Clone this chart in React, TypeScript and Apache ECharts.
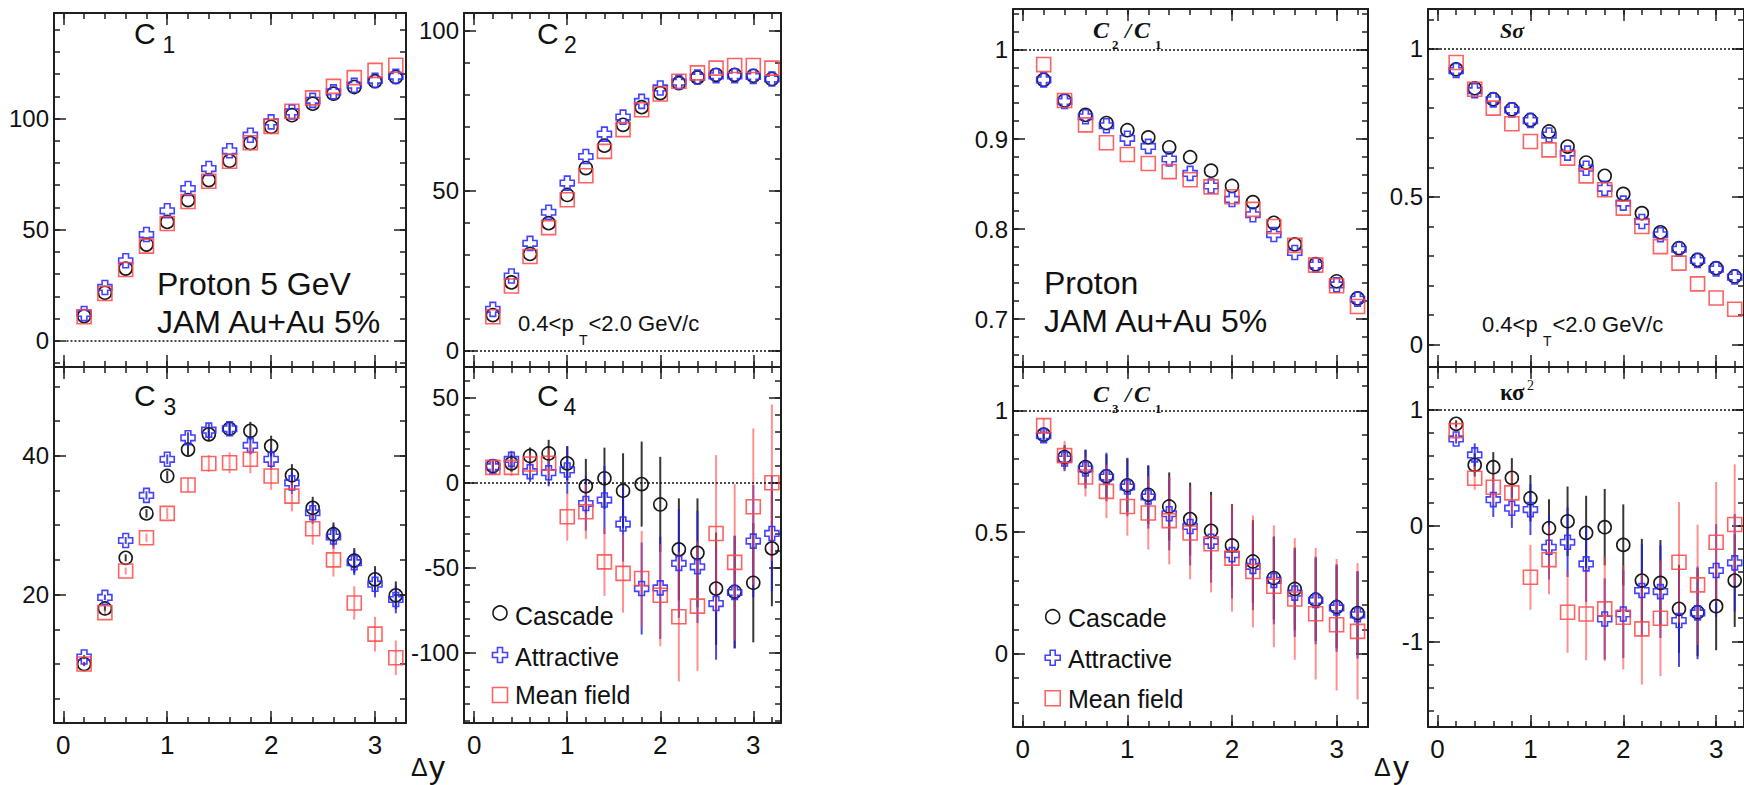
import React, { useEffect, useRef } from "react";
import * as echarts from "echarts";

// ---------------- data ----------------
const dy = [0.2, 0.4, 0.6, 0.8, 1.0, 1.2, 1.4, 1.6, 1.8, 2.0, 2.2, 2.4, 2.6, 2.8, 3.0, 3.2];
const modelNames = ["Cascade", "Attractive", "Mean field"];

const c1Cascade = [11.1, 21.6, 32.5, 43.3, 53.5, 63.3, 72.3, 81.0, 89.0, 96.3, 101.5, 106.7, 111.2, 114.2, 116.8, 118.7];
const c1Attractive = [12.3, 24.0, 36.0, 47.8, 58.5, 68.5, 77.5, 85.5, 92.5, 98.5, 103.0, 108.2, 112.0, 115.0, 117.2, 119.0];
const c1MeanField = [10.8, 21.3, 32.1, 42.6, 52.8, 62.7, 71.8, 80.8, 89.1, 96.5, 103.3, 109.3, 114.5, 118.4, 121.7, 124.0];

const c2Cascade = [11.1, 21.3, 30.2, 39.8, 48.6, 57.0, 64.0, 70.5, 76.0, 80.4, 83.5, 85.3, 86.1, 86.1, 85.8, 84.8];
const c2Attractive = [12.9, 23.3, 33.5, 43.2, 52.3, 60.6, 67.6, 72.9, 77.8, 82.0, 83.8, 85.4, 85.8, 85.8, 85.6, 84.8];
const c2MeanField = [10.6, 20.2, 29.4, 38.4, 47.1, 54.6, 62.2, 69.0, 75.2, 80.1, 84.1, 86.7, 88.2, 89.0, 89.0, 88.2];

const c3Cascade = [10.0, 18.0, 25.3, 31.7, 37.1, 40.9, 43.1, 43.9, 43.6, 41.4, 37.2, 32.5, 28.7, 24.9, 22.2, 19.9];
const c3Attractive = [11.0, 19.6, 27.8, 34.3, 39.5, 42.6, 43.7, 43.9, 41.5, 39.5, 36.1, 31.8, 28.3, 24.6, 21.5, 19.3];
const c3MeanField = [10.0, 17.4, 23.4, 28.2, 31.7, 35.8, 38.9, 39.0, 39.5, 37.1, 34.2, 29.5, 25.0, 18.8, 14.3, 10.9];
const c3CascadeErr = [0.3, 0.4, 0.5, 0.6, 0.7, 0.8, 0.9, 1.0, 1.3, 1.5, 1.6, 1.6, 1.7, 1.8, 1.9, 2.0];
const c3AttractiveErr = [0.3, 0.4, 0.5, 0.6, 0.7, 0.8, 0.9, 1.0, 1.3, 1.5, 1.6, 1.6, 1.7, 1.8, 1.9, 2.0];
const c3MeanFieldErr = [0.3, 0.4, 0.5, 0.6, 0.8, 1.0, 1.2, 1.5, 2.0, 2.0, 2.2, 2.3, 2.4, 2.4, 2.5, 2.5];

const c4Cascade = [9.6, 11.2, 15.5, 17.0, 11.2, -2.2, 2.4, -4.9, -1.0, -13.0, -39.4, -41.4, -62.4, -64.3, -59.0, -38.8];
const c4Attractive = [9.2, 13.5, 6.3, 5.7, 7.3, -12.4, -10.4, -24.5, -62.4, -62.0, -47.6, -49.6, -71.2, -64.7, -34.5, -30.0];
const c4MeanField = [8.8, 8.8, 10.8, 11.2, -20.2, -17.3, -46.7, -53.5, -56.5, -66.3, -79.0, -72.7, -30.0, -47.0, -14.3, -0.2];
const c4CascadeErr = [3, 5, 5, 8, 10, 16, 18, 22, 25, 28, 30, 32, 33, 33, 35, 34];
const c4AttractiveErr = [3, 5, 6, 8, 14, 16, 20, 22, 27, 30, 32, 33, 33, 33, 33, 34];
const c4MeanFieldErr = [4, 5, 6, 8, 14, 16, 20, 23, 28, 30, 38, 38, 46, 46, 46, 46];

const c21Cascade = [0.966, 0.943, 0.927, 0.918, 0.910, 0.902, 0.891, 0.880, 0.865, 0.848, 0.830, 0.807, 0.783, 0.761, 0.742, 0.723];
const c21Attractive = [0.966, 0.942, 0.925, 0.915, 0.901, 0.892, 0.878, 0.862, 0.848, 0.833, 0.816, 0.794, 0.774, 0.760, 0.738, 0.722];
const c21MeanField = [0.983, 0.943, 0.916, 0.896, 0.883, 0.873, 0.864, 0.855, 0.847, 0.836, 0.822, 0.803, 0.782, 0.760, 0.737, 0.714];

const sSigmaCascade = [0.931, 0.867, 0.830, 0.796, 0.760, 0.721, 0.670, 0.616, 0.571, 0.510, 0.445, 0.380, 0.327, 0.287, 0.259, 0.231];
const sSigmaAttractive = [0.927, 0.859, 0.828, 0.794, 0.758, 0.709, 0.648, 0.597, 0.529, 0.479, 0.417, 0.372, 0.323, 0.285, 0.256, 0.229];
const sSigmaMeanField = [0.954, 0.864, 0.800, 0.747, 0.687, 0.659, 0.631, 0.571, 0.524, 0.462, 0.400, 0.332, 0.276, 0.206, 0.158, 0.120];

const c31Cascade = [0.900, 0.808, 0.767, 0.729, 0.692, 0.653, 0.605, 0.553, 0.505, 0.445, 0.379, 0.311, 0.266, 0.222, 0.192, 0.167];
const c31Attractive = [0.896, 0.800, 0.759, 0.726, 0.685, 0.644, 0.575, 0.523, 0.462, 0.407, 0.359, 0.301, 0.249, 0.219, 0.188, 0.160];
const c31MeanField = [0.937, 0.814, 0.726, 0.667, 0.605, 0.578, 0.547, 0.496, 0.452, 0.393, 0.338, 0.277, 0.225, 0.164, 0.119, 0.092];
const c31CascadeErr = [0.02, 0.05, 0.07, 0.09, 0.11, 0.12, 0.14, 0.15, 0.16, 0.17, 0.17, 0.17, 0.17, 0.17, 0.17, 0.17];
const c31AttractiveErr = [0.02, 0.05, 0.08, 0.10, 0.12, 0.13, 0.15, 0.16, 0.17, 0.18, 0.18, 0.18, 0.18, 0.18, 0.18, 0.18];
const c31MeanFieldErr = [0.03, 0.06, 0.08, 0.11, 0.12, 0.15, 0.18, 0.19, 0.20, 0.22, 0.23, 0.25, 0.25, 0.27, 0.27, 0.28];

const kSigmaCascade = [0.878, 0.524, 0.504, 0.412, 0.236, -0.023, 0.037, -0.063, -0.014, -0.167, -0.475, -0.495, -0.719, -0.748, -0.696, -0.475];
const kSigmaAttractive = [0.748, 0.610, 0.224, 0.150, 0.138, -0.187, -0.144, -0.331, -0.806, -0.763, -0.561, -0.570, -0.820, -0.754, -0.388, -0.322];
const kSigmaMeanField = [0.820, 0.409, 0.331, 0.282, -0.446, -0.294, -0.748, -0.763, -0.719, -0.791, -0.892, -0.800, -0.317, -0.512, -0.144, 0.009];
const kSigmaCascadeErr = [0.03, 0.10, 0.13, 0.17, 0.20, 0.25, 0.30, 0.32, 0.33, 0.35, 0.36, 0.37, 0.38, 0.38, 0.38, 0.40];
const kSigmaAttractiveErr = [0.04, 0.10, 0.15, 0.17, 0.22, 0.28, 0.30, 0.33, 0.35, 0.38, 0.40, 0.40, 0.40, 0.40, 0.40, 0.42];
const kSigmaMeanFieldErr = [0.04, 0.10, 0.13, 0.20, 0.28, 0.30, 0.35, 0.40, 0.45, 0.45, 0.48, 0.50, 0.52, 0.52, 0.52, 0.52];

// ---------------- ticks ----------------
const xMajorTicks = [0, 1, 2, 3];
const xMinorTicks = [0, 0.2, 0.4, 0.6, 0.8, 1, 1.2, 1.4, 1.6, 1.8, 2, 2.2, 2.4, 2.6, 2.8, 3, 3.2];
const c1YMajor = [0, 50, 100];
const c1YMinor = [-10, 0, 10, 20, 30, 40, 50, 60, 70, 80, 90, 100, 110, 120, 130, 140];
const c2YMajor = [0, 50, 100];
const c2YMinor = [0, 10, 20, 30, 40, 50, 60, 70, 80, 90, 100];
const c3YMajor = [20, 40];
const c3YMinor = [5, 10, 15, 20, 25, 30, 35, 40, 45, 50];
const c4YMajor = [-100, -50, 0, 50];
const c4YMinor = [-140, -130, -120, -110, -100, -90, -80, -70, -60, -50, -40, -30, -20, -10, 0, 10, 20, 30, 40, 50, 60];
const c21YMajor = [0.7, 0.8, 0.9, 1];
const c21YMinor = [0.66, 0.68, 0.7, 0.72, 0.74, 0.76, 0.78, 0.8, 0.82, 0.84, 0.86, 0.88, 0.9, 0.92, 0.94, 0.96, 0.98, 1, 1.02, 1.04];
const sSigmaYMajor = [0, 0.5, 1];
const sSigmaYMinor = [0, 0.1, 0.2, 0.3, 0.4, 0.5, 0.6, 0.7, 0.8, 0.9, 1, 1.1];
const c31YMajor = [0, 0.5, 1];
const c31YMinor = [-0.2, -0.1, 0, 0.1, 0.2, 0.3, 0.4, 0.5, 0.6, 0.7, 0.8, 0.9, 1, 1.1];
const kSigmaYMajor = [-1, 0, 1];
const kSigmaYMinor = [-1.6, -1.4, -1.2, -1, -0.8, -0.6, -0.4, -0.2, 0, 0.2, 0.4, 0.6, 0.8, 1, 1.2];

// ---------------- layout ----------------
const panels = [
  { left: 54, top: 13, width: 352, height: 354, xMin: -0.09, xMax: 3.298, yMin: -11.8, yMax: 147.5, yMajor: c1YMajor, yMinor: c1YMinor, showX: false, values: [c1Cascade, c1Attractive, c1MeanField], errors: null, ref: { y: 0, x: [0.03, 3.15] } },
  { left: 464, top: 13, width: 317, height: 354, xMin: -0.11, xMax: 3.298, yMin: -5.1, yMax: 105.4, yMajor: c2YMajor, yMinor: c2YMinor, showX: false, values: [c2Cascade, c2Attractive, c2MeanField], errors: null, ref: { y: 0 } },
  { left: 54, top: 367, width: 352, height: 356, xMin: -0.09, xMax: 3.298, yMin: 1.5, yMax: 52.8, yMajor: c3YMajor, yMinor: c3YMinor, showX: true, values: [c3Cascade, c3Attractive, c3MeanField], errors: [c3CascadeErr, c3AttractiveErr, c3MeanFieldErr], ref: null },
  { left: 464, top: 367, width: 317, height: 356, xMin: -0.11, xMax: 3.298, yMin: -141.4, yMax: 67.8, yMajor: c4YMajor, yMinor: c4YMinor, showX: true, values: [c4Cascade, c4Attractive, c4MeanField], errors: [c4CascadeErr, c4AttractiveErr, c4MeanFieldErr], ref: { y: 0 } },
  { left: 1013, top: 9, width: 355, height: 358, xMin: -0.093, xMax: 3.3, yMin: 0.6467, yMax: 1.0448, yMajor: c21YMajor, yMinor: c21YMinor, showX: false, values: [c21Cascade, c21Attractive, c21MeanField], errors: null, ref: { y: 1 } },
  { left: 1428, top: 9, width: 320, height: 358, xMin: -0.103, xMax: 3.3, yMin: -0.075, yMax: 1.135, yMajor: sSigmaYMajor, yMinor: sSigmaYMinor, showX: false, values: [sSigmaCascade, sSigmaAttractive, sSigmaMeanField], errors: null, ref: { y: 1 } },
  { left: 1013, top: 367, width: 355, height: 360, xMin: -0.093, xMax: 3.3, yMin: -0.301, yMax: 1.178, yMajor: c31YMajor, yMinor: c31YMinor, showX: true, values: [c31Cascade, c31Attractive, c31MeanField], errors: [c31CascadeErr, c31AttractiveErr, c31MeanFieldErr], ref: { y: 1 } },
  { left: 1428, top: 367, width: 320, height: 360, xMin: -0.103, xMax: 3.3, yMin: -1.739, yMax: 1.369, yMajor: kSigmaYMajor, yMinor: kSigmaYMinor, showX: true, values: [kSigmaCascade, kSigmaAttractive, kSigmaMeanField], errors: [kSigmaCascadeErr, kSigmaAttractiveErr, kSigmaMeanFieldErr], ref: { y: 1 } },
];

const FONT = "'Liberation Sans', Arial, Helvetica, sans-serif";
const SERIF = "'Liberation Serif', 'Times New Roman', serif";
const FRAME = "#1f1f1f";
const CROSS_PATH = "path://M3,0H7V3H10V7H7V10H3V7H0V3H3Z";
const markerStyles = [
  { symbol: "circle", size: 13, color: "#1a1a1a", err: "rgba(20,20,20,0.85)" },
  { symbol: CROSS_PATH, size: 14, color: "rgba(45,45,255,0.9)", err: "rgba(30,30,210,0.8)" },
  { symbol: "rect", size: 14, color: "rgba(255,70,70,0.85)", err: "rgba(255,70,70,0.6)" },
];

function buildAxes(p: any, i: number) {
  const xs: any[] = [];
  const ys: any[] = [];
  const line = { show: true, onZero: false, lineStyle: { color: FRAME, width: 2 } };
  const noLine = { show: false, onZero: false };
  const tickStyle = { color: FRAME, width: 1.5 };
  for (const pos of ["bottom", "top"]) {
    const labels = pos === "bottom" && p.showX;
    xs.push({
      type: "value", gridIndex: i, position: pos, min: p.xMin, max: p.xMax,
      axisLine: line, splitLine: { show: false },
      axisTick: { show: true, inside: true, length: 12, customValues: xMajorTicks, lineStyle: tickStyle },
      axisLabel: labels
        ? { show: true, customValues: xMajorTicks, margin: 9, fontSize: 26, color: "#111", fontFamily: FONT }
        : { show: false },
    });
    xs.push({
      type: "value", gridIndex: i, position: pos, min: p.xMin, max: p.xMax,
      axisLine: noLine, splitLine: { show: false }, axisLabel: { show: false },
      axisTick: { show: true, inside: true, length: 6, customValues: xMinorTicks, lineStyle: tickStyle },
    });
  }
  for (const pos of ["left", "right"]) {
    const labels = pos === "left";
    ys.push({
      type: "value", gridIndex: i, position: pos, min: p.yMin, max: p.yMax,
      axisLine: line, splitLine: { show: false },
      axisTick: { show: true, inside: true, length: 12, customValues: p.yMajor, lineStyle: tickStyle },
      axisLabel: labels
        ? { show: true, customValues: p.yMajor, margin: 5, fontSize: 24, color: "#111", fontFamily: FONT, formatter: (v: number) => String(v) }
        : { show: false },
    });
    ys.push({
      type: "value", gridIndex: i, position: pos, min: p.yMin, max: p.yMax,
      axisLine: noLine, splitLine: { show: false }, axisLabel: { show: false },
      axisTick: { show: true, inside: true, length: 6, customValues: p.yMinor, lineStyle: tickStyle },
    });
  }
  return { xs, ys };
}

function buildSeries(p: any, i: number) {
  const out: any[] = [];
  const xi = 4 * i;
  const yi = 4 * i;
  p.values.forEach((vals: number[], m: number) => {
    const st = markerStyles[m];
    if (p.errors) {
      const errs = p.errors[m];
      out.push({
        type: "custom", name: modelNames[m], xAxisIndex: xi, yAxisIndex: yi, silent: true, z: 2, clip: true,
        data: dy.map((x, k) => [x, vals[k] - errs[k], vals[k] + errs[k]]),
        renderItem: (params: any, api: any) => {
          const a = api.coord([api.value(0), api.value(1)]);
          const b = api.coord([api.value(0), api.value(2)]);
          return { type: "line", shape: { x1: a[0], y1: a[1], x2: b[0], y2: b[1] }, style: { stroke: st.err, lineWidth: 2 } };
        },
      });
    }
    const s: any = {
      type: "scatter", name: modelNames[m], xAxisIndex: xi, yAxisIndex: yi, silent: true, z: 3,
      data: dy.map((x, k) => [x, vals[k]]),
      symbol: st.symbol, symbolSize: st.size,
      itemStyle: { color: "rgba(0,0,0,0)", borderColor: st.color, borderWidth: 1.6, opacity: 1 },
    };
    if (m === 0 && p.ref) {
      s.markLine = {
        silent: true, symbol: ["none", "none"], label: { show: false }, animation: false,
        lineStyle: { color: "#111", type: [2, 2], width: 1.5 },
        data: p.ref.x
          ? [[{ coord: [p.ref.x[0], p.ref.y] }, { coord: [p.ref.x[1], p.ref.y] }]]
          : [{ yAxis: p.ref.y }],
      };
    }
    out.push(s);
  });
  return out;
}

function txt(text: string, x: number, y: number, size: number, extra: any = {}) {
  return {
    type: "text", x, y, silent: true, z: 20,
    style: { text, fontSize: size, fontFamily: FONT, fill: "#111", align: "left", verticalAlign: "middle", ...extra },
  };
}

function plus(cx: number, cy: number, s: number, color: string) {
  const a = s / 6, h = s / 2;
  return {
    type: "polygon", silent: true, z: 20,
    shape: { points: [[cx - a, cy - h], [cx + a, cy - h], [cx + a, cy - a], [cx + h, cy - a], [cx + h, cy + a], [cx + a, cy + a], [cx + a, cy + h], [cx - a, cy + h], [cx - a, cy + a], [cx - h, cy + a], [cx - h, cy - a], [cx - a, cy - a]] },
    style: { fill: "none", stroke: color, lineWidth: 1.6 },
  };
}

function legend(cx: number, ys: number[], tx: number, tys: number[]) {
  return [
    { type: "circle", silent: true, z: 20, shape: { cx, cy: ys[0], r: 7 }, style: { fill: "none", stroke: markerStyles[0].color, lineWidth: 1.6 } },
    plus(cx, ys[1], 15, markerStyles[1].color),
    { type: "rect", silent: true, z: 20, shape: { x: cx - 7.5, y: ys[2] - 7.5, width: 15, height: 15 }, style: { fill: "none", stroke: markerStyles[2].color, lineWidth: 1.6 } },
    txt(modelNames[0], tx, tys[0], 25),
    txt(modelNames[1], tx, tys[1], 25),
    txt(modelNames[2], tx, tys[2], 25),
  ];
}

function buildGraphics() {
  const bi = { fontFamily: SERIF, fontWeight: "bold", fontStyle: "italic" };
  const b = { fontFamily: SERIF, fontWeight: "bold" };
  const g: any[] = [
    // left group panel labels
    txt("C", 134, 33, 30), txt("1", 162.5, 45, 23),
    txt("C", 537, 33, 30), txt("2", 564, 45, 23),
    txt("C", 134, 395, 30), txt("3", 163.5, 407, 23),
    txt("C", 537, 395, 30), txt("4", 563.5, 407, 23),
    txt("Proton 5 GeV", 157, 284, 32),
    txt("JAM Au+Au 5%", 157, 322, 32),
    txt("0.4<p", 518, 323.5, 22), txt("T", 579, 340, 14), txt("<2.0 GeV/c", 588.5, 323.5, 22),
    txt("Δ", 411, 767, 25), txt("y", 429, 767, 32),
    // right group labels
    txt("C", 1093, 30, 24, bi), txt("2", 1112, 44.5, 13, b), txt("/", 1125, 30, 22, bi), txt("C", 1134, 30, 24, bi), txt("1", 1155, 44.5, 13, b),
    txt("C", 1093, 394, 24, bi), txt("3", 1112, 408.5, 13, b), txt("/", 1125, 394, 22, bi), txt("C", 1134, 394, 24, bi), txt("1", 1155, 408.5, 13, b),
    txt("Sσ", 1500, 30, 22, bi),
    txt("κσ", 1500, 392, 23, b), txt("2", 1527, 385.7, 14, { fontFamily: SERIF }),
    txt("Proton", 1044, 282.5, 32),
    txt("JAM Au+Au 5%", 1044, 321, 32),
    txt("0.4<p", 1482, 324, 22), txt("T", 1543, 341, 14), txt("<2.0 GeV/c", 1552.5, 324, 22),
    txt("Δ", 1374, 767, 25), txt("y", 1393, 767, 32),
  ];
  g.push(...legend(500, [613, 655, 695], 515, [616, 656.7, 695]));
  g.push(...legend(1052.7, [616.7, 657.7, 698.3], 1068, [618, 659, 699]));
  return g;
}

export default function App() {
  const ref = useRef<HTMLDivElement>(null);
  useEffect(() => {
    if (!ref.current) return;
    const chart = echarts.init(ref.current, null, { renderer: "svg" });
    const xAxis: any[] = [];
    const yAxis: any[] = [];
    const series: any[] = [];
    panels.forEach((p, i) => {
      const { xs, ys } = buildAxes(p, i);
      xAxis.push(...xs);
      yAxis.push(...ys);
      series.push(...buildSeries(p, i));
    });
    chart.setOption({
      animation: false,
      backgroundColor: "#ffffff",
      grid: panels.map((p) => ({ left: p.left, top: p.top, width: p.width, height: p.height, show: false })),
      xAxis,
      yAxis,
      series,
      graphic: buildGraphics(),
    });
    return () => chart.dispose();
  }, []);
  return (
    <div
      ref={ref}
      style={{ position: "fixed", left: 0, top: 0, width: 1744, height: 785, background: "#fff" }}
    />
  );
}
